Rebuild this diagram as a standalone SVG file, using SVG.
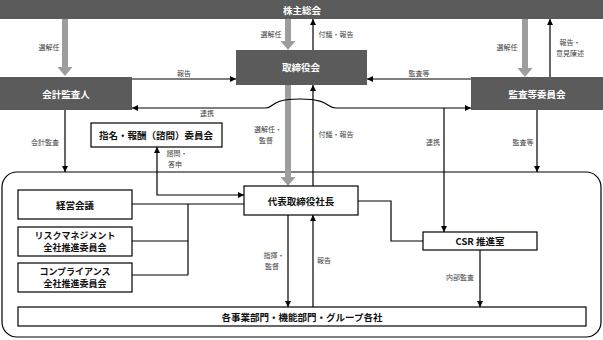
<svg xmlns="http://www.w3.org/2000/svg" width="603" height="340" viewBox="0 0 603 340">
<style>
.dark{fill:#5b5b5b;}
.wbox{fill:#fff;stroke:#000;stroke-width:1.2;}
.bt{font-family:"Noto Sans CJK JP","Noto Sans",sans-serif;font-size:9.5px;font-weight:bold;text-anchor:middle;dominant-baseline:central;}
.sm{font-size:9px;}
.wt{fill:#fff;}
.kt{fill:#111;}
.lb{font-family:"Noto Sans CJK JP","Noto Sans",sans-serif;font-size:7px;fill:#444;text-anchor:middle;}
.ln{fill:none;stroke:#000;stroke-width:1.2;}
.ga{fill:#9d9d9d;}
</style>
<defs>
<marker id="ah" markerUnits="userSpaceOnUse" markerWidth="7" markerHeight="7" refX="6" refY="3" orient="auto-start-reverse" viewBox="0 0 7 6">
<path d="M0,0 L6,3 L0,6 z" fill="#000"/>
</marker>
</defs>
<rect width="603" height="340" fill="#fff"/>

<g id="frame"><rect x="2" y="172" width="599" height="165" rx="15" ry="15" fill="none" stroke="#000" stroke-width="1.2"/></g>

<g id="connectors">
<polygon class="ga" points="62,19 68,19 68,67 72.5,67 65,76 57.5,67 62,67"/>
<polygon class="ga" points="285,19 291,19 291,41 295.5,41 288,50 280.5,41 285,41"/>
<polygon class="ga" points="522,19 528,19 528,68 532.5,68 525,77 517.5,68 522,68"/>
<polygon class="ga" points="285,85 291,85 291,177 295.5,177 288,186 280.5,177 285,177"/>
<line class="ln" x1="313" y1="50" x2="313" y2="19" marker-end="url(#ah)"/>
<line class="ln" x1="550" y1="77" x2="550" y2="19" marker-end="url(#ah)"/>
<line class="ln" x1="132" y1="79" x2="236" y2="79" marker-end="url(#ah)"/>
<line class="ln" x1="471" y1="79" x2="367" y2="79" marker-end="url(#ah)"/>
<path class="ln" d="M132,108 L266,108 C274,108 270,99 300,99 C330,99 326,108 336,108 L471,108" marker-start="url(#ah)" marker-end="url(#ah)"/>
<line class="ln" x1="444" y1="108" x2="444" y2="232" marker-end="url(#ah)"/>
<line class="ln" x1="65" y1="110" x2="65" y2="172" marker-end="url(#ah)"/>
<line class="ln" x1="537" y1="110" x2="537" y2="172" marker-end="url(#ah)"/>
<line class="ln" x1="313" y1="186" x2="313" y2="85" marker-end="url(#ah)"/>
<path class="ln" d="M157,147 L157,195 L244,195" marker-start="url(#ah)" marker-end="url(#ah)"/>
<line class="ln" x1="132" y1="204" x2="244" y2="204"/>
<line class="ln" x1="188" y1="204" x2="188" y2="275"/>
<line class="ln" x1="132" y1="241" x2="188" y2="241"/>
<line class="ln" x1="132" y1="275" x2="188" y2="275"/>
<path class="ln" d="M358,201 L391,201 L391,241 L423,241"/>
<line class="ln" x1="288" y1="215" x2="288" y2="307" marker-end="url(#ah)"/>
<line class="ln" x1="313" y1="307" x2="313" y2="215" marker-end="url(#ah)"/>
<line class="ln" x1="480" y1="250" x2="480" y2="307" marker-end="url(#ah)"/>
</g>

<g id="labels">
<text class="lb" x="49" y="50">選解任</text>
<text class="lb" x="271" y="37">選解任</text>
<text class="lb" x="336" y="37">付議・報告</text>
<text class="lb" x="507" y="50">選解任</text>
<text class="lb" x="570" y="45">報告・</text>
<text class="lb" x="570" y="56">意見陳述</text>
<text class="lb" x="184" y="76">報告</text>
<text class="lb" x="419" y="76">監査等</text>
<text class="lb" x="207" y="116">連携</text>
<text class="lb" x="45" y="145">会計監査</text>
<text class="lb" x="268" y="132">選解任・</text>
<text class="lb" x="266" y="143">監督</text>
<text class="lb" x="336" y="137">付議・報告</text>
<text class="lb" x="177" y="156">諮問・</text>
<text class="lb" x="175" y="167">答申</text>
<text class="lb" x="433" y="145">連携</text>
<text class="lb" x="523" y="145">監査等</text>
<text class="lb" x="274" y="258">指揮・</text>
<text class="lb" x="272" y="269">監督</text>
<text class="lb" x="324" y="263">報告</text>
<text class="lb" x="460" y="280">内部監査</text>
</g>

<g id="n-shareholders"><rect class="dark" x="0" y="0" width="603" height="19"/><text class="bt wt" x="302" y="10">株主総会</text></g>
<g id="n-board"><rect class="dark" x="236" y="50" width="131" height="35"/><text class="bt wt" x="301" y="67">取締役会</text></g>
<g id="n-auditor"><rect class="dark" x="0" y="77" width="132" height="33"/><text class="bt wt" x="66" y="94">会計監査人</text></g>
<g id="n-audit-committee"><rect class="dark" x="471" y="77" width="132" height="33"/><text class="bt wt" x="537" y="94">監査等委員会</text></g>
<g id="n-nomination"><rect class="wbox" x="91" y="123" width="131" height="24"/><text class="bt kt" x="156" y="135">指名・報酬（諮問）委員会</text></g>
<g id="n-mgmt"><rect class="wbox" x="18" y="190" width="114" height="29"/><text class="bt kt" x="75" y="205">経営会議</text></g>
<g id="n-risk"><rect class="wbox" x="18" y="227" width="114" height="29"/><text class="bt kt sm" x="75" y="235.5">リスクマネジメント</text><text class="bt kt sm" x="75" y="247.5">全社推進委員会</text></g>
<g id="n-compliance"><rect class="wbox" x="18" y="263" width="114" height="29"/><text class="bt kt sm" x="75" y="271.5">コンプライアンス</text><text class="bt kt sm" x="75" y="283.5">全社推進委員会</text></g>
<g id="n-president"><rect class="wbox" x="244" y="186" width="114" height="29"/><text class="bt kt" x="301" y="201">代表取締役社長</text></g>
<g id="n-csr"><rect class="wbox" x="423" y="232" width="114" height="18"/><text class="bt kt" x="480" y="241">CSR 推進室</text></g>
<g id="n-divisions"><rect class="wbox" x="18" y="307" width="568" height="19"/><text class="bt kt" x="302" y="317">各事業部門・機能部門・グループ各社</text></g>
</svg>
